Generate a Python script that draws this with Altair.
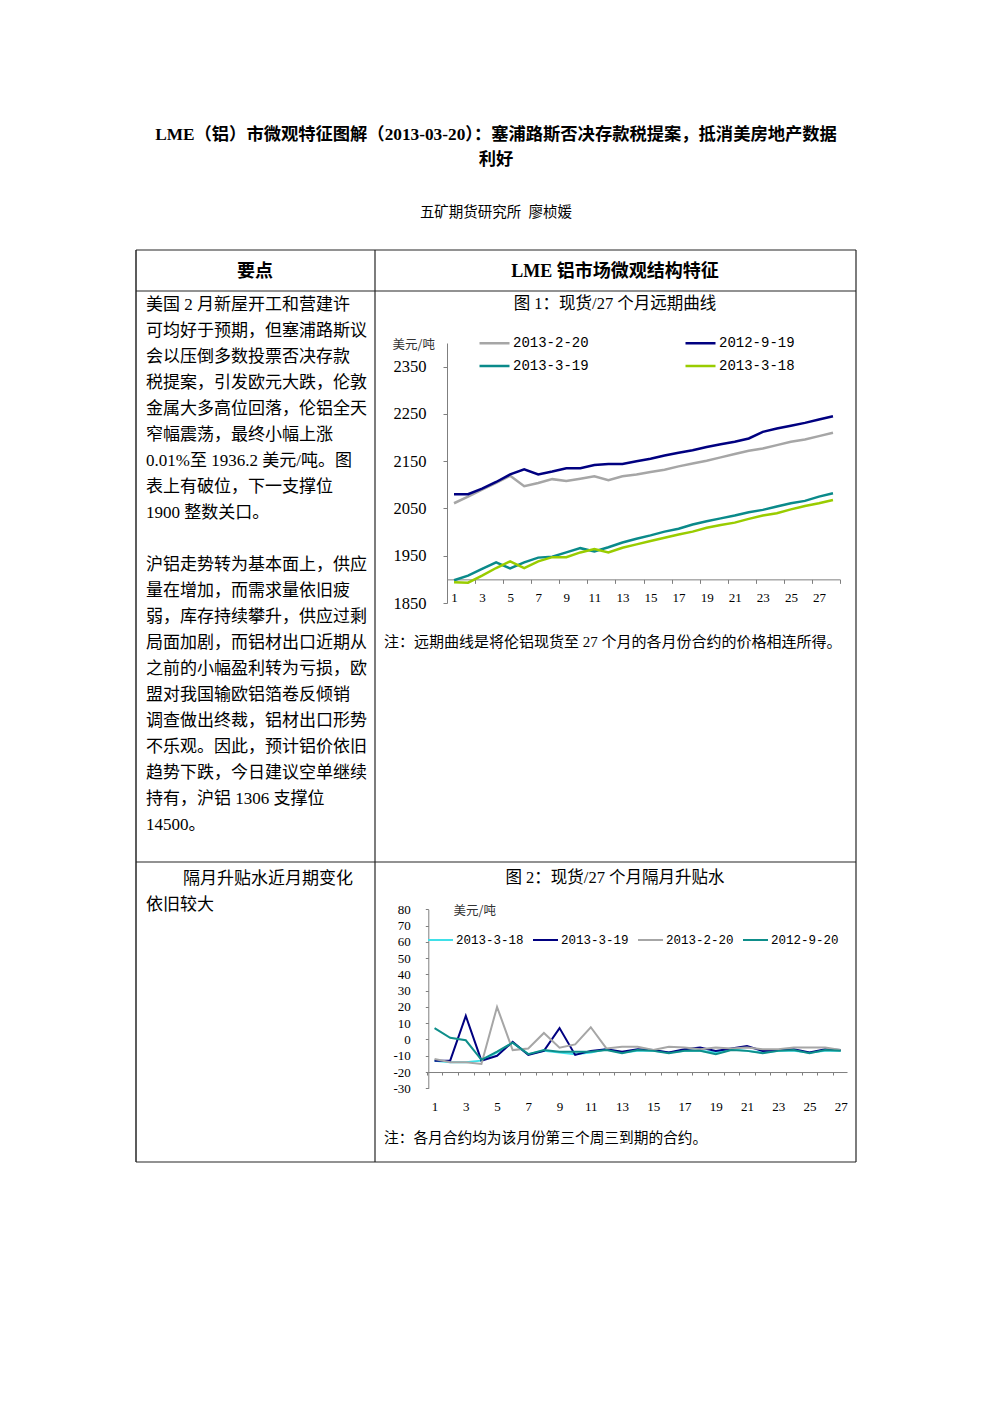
import altair as alt
import pandas as pd

W, H = 992, 1403
CJK = "Noto Sans CJK SC"
SERIF = "Liberation Serif, Noto Sans CJK SC"
MONO = "Liberation Mono"

# ---------------- text content ----------------
title_line1 = "LME（铝）市微观特征图解（2013-03-20）：塞浦路斯否决存款税提案，抵消美房地产数据"
title_line2 = "利好"
author = "五矿期货研究所\u00a0 廖桢媛"
head_left = "要点"
head_right = "LME 铝市场微观结构特征"
para1a = [
    "美国 2 月新屋开工和营建许",
    "可均好于预期，但塞浦路斯议",
    "会以压倒多数投票否决存款",
    "税提案，引发欧元大跌，伦敦",
    "金属大多高位回落，伦铝全天",
    "窄幅震荡，最终小幅上涨",
    "0.01%至 1936.2 美元/吨。图",
    "表上有破位，下一支撑位",
    "1900 整数关口。",
]
para1b = [
    "沪铝走势转为基本面上，供应",
    "量在增加，而需求量依旧疲",
    "弱，库存持续攀升，供应过剩",
    "局面加剧，而铝材出口近期从",
    "之前的小幅盈利转为亏损，欧",
    "盟对我国输欧铝箔卷反倾销",
    "调查做出终裁，铝材出口形势",
    "不乐观。因此，预计铝价依旧",
    "趋势下跌，今日建议空单继续",
    "持有，沪铝 1306 支撑位",
    "14500。",
]
para2_first = "隔月升贴水近月期变化"
para2_second = "依旧较大"
fig1_title = "图 1：现货/27 个月远期曲线"
fig1_note = "注：远期曲线是将伦铝现货至 27 个月的各月份合约的价格相连所得。"
fig2_title = "图 2：现货/27 个月隔月升贴水"
fig2_note = "注：各月合约均为该月份第三个周三到期的合约。"
unit = "美元/吨"

# ---------------- chart 1 data ----------------
months1 = list(range(1, 29))
# legend is filled column by column: left column first, then right column
series1 = ["2013-2-20", "2013-3-19", "2012-9-19", "2013-3-18"]
colors1 = ["#A6A6A6", "#0A8A8A", "#000080", "#99CC00"]
c1_0220 = [2061, 2075, 2090, 2104, 2119, 2097, 2104, 2112, 2108, 2113, 2118, 2110, 2118, 2122,
           2127, 2132, 2139, 2145, 2151, 2158, 2165, 2172, 2177, 2184, 2191, 2196, 2203, 2210]
c1_0919 = [2080, 2080, 2092, 2106, 2122, 2133, 2122, 2128, 2135, 2135, 2142, 2144, 2144, 2150,
           2155, 2162, 2168, 2173, 2180, 2186, 2191, 2198, 2212, 2219, 2225, 2231, 2238, 2245]
c1_0319 = [1898, 1908, 1922, 1936, 1923, 1936, 1946, 1948, 1957, 1966, 1959, 1968, 1978, 1986,
           1993, 2001, 2007, 2016, 2023, 2029, 2035, 2042, 2047, 2054, 2061, 2066, 2075, 2082]
c1_0318 = [1894, 1893, 1908, 1924, 1938, 1924, 1938, 1947, 1947, 1957, 1964, 1957, 1967, 1974,
           1981, 1988, 1995, 2001, 2009, 2015, 2020, 2028, 2035, 2040, 2048, 2055, 2061, 2068]
y1_ticks = [1850, 1950, 2050, 2150, 2250, 2350]
x1_ticks = [2, 4, 6, 8, 10, 12, 14, 16, 18, 20, 22, 24, 26, 28]

# ---------------- chart 2 data ----------------
months2 = list(range(1, 28))
series2 = ["2013-3-18", "2013-3-19", "2013-2-20", "2012-9-20"]
colors2 = ["#3FE0E8", "#000080", "#A6A6A6", "#0E8E8A"]
c2_0318 = [-13, -14, -14, -13, -8, -2, -9, -7, -8, -9, -8, -6, -8, -7, -7, -8, -7, -7, -8, -6,
           -7, -8, -7, -7, -8, -7, -7]
c2_0319 = [-13, -13, 14.5, -13, -10, -1.5, -9.5, -7, 7, -9.5, -7, -6, -7.5, -6, -6.5, -8, -6,
           -5, -7, -5.5, -4, -7, -6.5, -6, -8, -6, -6.5]
c2_0220 = [-12, -14, -14, -15, 20, -6.5, -5.5, 4, -5, -3, 7.5, -5.5, -4.5, -4.5, -6.5, -4.5, -5,
           -6, -5, -5.5, -5, -6, -6, -5, -5, -5, -6.5]
c2_0920 = [7, 1, -0.5, -12.5, -7.5, -2, -9, -6.5, -7.5, -7.5, -7.5, -6.5, -8.5, -6.5, -7, -8.5,
           -7, -7, -9, -6.5, -7, -8.5, -7, -6.5, -8.5, -6.5, -7]
y2_ticks = list(range(-30, 90, 10))
x2_ticks = list(range(1, 28))

df1 = pd.DataFrame({
    "月份": months1 * 4,
    "价格": c1_0220 + c1_0919 + c1_0319 + c1_0318,
    "日期": sum([[s] * len(months1) for s in ["2013-2-20", "2012-9-19", "2013-3-19", "2013-3-18"]], []),
})
df2 = pd.DataFrame({
    "月份": months2 * 4,
    "升贴水": c2_0318 + c2_0319 + c2_0220 + c2_0920,
    "日期": sum([[s] * len(months2) for s in series2], []),
})

# ---------------- layout helpers ----------------
BORDER = "#262626"


def hline(y, x1, x2, w=1.2):
    return alt.Chart().mark_rule(color=BORDER, strokeWidth=w).encode(
        x=alt.value(x1), x2=alt.value(x2), y=alt.value(y))


def vline(x, y1, y2, w=1.2):
    return alt.Chart().mark_rule(color=BORDER, strokeWidth=w).encode(
        x=alt.value(x), y=alt.value(y1), y2=alt.value(y2))


def text(t, x, y, size, weight="normal", align="left", font=SERIF, lh=None):
    kw = dict(text=t, align=align, baseline="alphabetic", fontSize=size,
              fontWeight=weight, font=font, color="black")
    if lh is not None:
        kw["lineHeight"] = lh
    return alt.Chart().mark_text(**kw).encode(x=alt.value(x), y=alt.value(y))


TL, TR, TM = 136, 856, 375
TT, THB, TRD, TB = 250, 291, 862, 1162
LH = 26

decor = [
    hline(TT, TL, TR), hline(THB, TL, TR), hline(TRD, TL, TR), hline(TB, TL, TR),
    vline(TL, TT, TB, 1.5), vline(TR, TT, TB), vline(TM, TT, TB),
    text(title_line1, 496, 139.6, 17.3, "bold", "center"),
    text(title_line2, 496, 164.6, 17.3, "bold", "center"),
    text(author, 496, 216.5, 14.5, "normal", "center"),
    text(head_left, 255, 276.8, 18, "bold", "center"),
    text(head_right, 615, 276.8, 18, "bold", "center"),
    text(para1a, 146, 309.5, 17, lh=LH),
    text(para1b, 146, 309.5 + LH * (len(para1a) + 1), 17, lh=LH),
    text(para2_first, 183, 883.5, 17),
    text(para2_second, 146, 909.5, 17),
    text(fig1_title, 615, 309.3, 16.5, "normal", "center"),
    text(fig1_note, 384, 646.7, 15),
    text(fig2_title, 615, 883.3, 16.5, "normal", "center"),
    text(fig2_note, 384, 1142.6, 14.7),
]

AX = "#7F7F7F"

# ---------------- chart 1 ----------------
X1_RANGE = [447, 840]
X1_DOM = [0.5, 28.5]
cat1 = (X1_RANGE[1] - X1_RANGE[0]) / (X1_DOM[1] - X1_DOM[0])
Y1_RANGE = [603, 343]
Y1_DOM = [1850, 2400]
y1_axis_px = Y1_RANGE[0] - (1900 - Y1_DOM[0]) * (Y1_RANGE[0] - Y1_RANGE[1]) / (Y1_DOM[1] - Y1_DOM[0])

chart1 = alt.Chart(df1).mark_line(strokeWidth=2.5).encode(
    x=alt.X("月份:Q",
            scale=alt.Scale(domain=X1_DOM, range=X1_RANGE, nice=False, zero=False),
            axis=alt.Axis(orient="bottom", offset=-(H - y1_axis_px), values=x1_ticks,
                          tickOffset=cat1 / 2, labelOffset=-cat1 * 1.5,
                          labelExpr="'' + (datum.value - 1)",
                          tickSize=4, labelPadding=8, labelFont=SERIF, labelFontSize=13,
                          labelColor="black", labelFlush=False, labelOverlap=False,
                          domainColor=AX, tickColor=AX, grid=False, title=None)),
    y=alt.Y("价格:Q",
            scale=alt.Scale(domain=Y1_DOM, range=Y1_RANGE, nice=False, zero=False),
            axis=alt.Axis(orient="left", offset=-X1_RANGE[0], values=y1_ticks,
                          labelExpr="'' + datum.value",
                          tickSize=4, labelPadding=17, labelFont=SERIF, labelFontSize=16.5,
                          labelColor="black", labelFlush=False, labelOverlap=False,
                          domainColor=AX, tickColor=AX, grid=False,
                          title=unit, titleAngle=0, titleAlign="left", titleBaseline="middle",
                          titleX=392 - X1_RANGE[0], titleY=344, titleFont=CJK,
                          titleFontSize=12.5, titleFontWeight="normal", titleColor="#333333")),
    color=alt.Color("日期:N",
                    scale=alt.Scale(domain=series1, range=colors1),
                    legend=alt.Legend(orient="none", legendX=478, legendY=336.3, columns=2,
                                      columnPadding=95, rowPadding=8.7, symbolType="stroke",
                                      symbolSize=900, symbolStrokeWidth=2.5, labelFont=MONO,
                                      labelFontSize=14, labelColor="black", labelOffset=2,
                                      clipHeight=14, padding=0, title=None)),
)

# ---------------- chart 2 ----------------
X2_RANGE = [428.3, 847]
X2_DOM = [0.6, 27.4]
cat2 = (X2_RANGE[1] - X2_RANGE[0]) / (X2_DOM[1] - X2_DOM[0])
Y2_RANGE = [1088.3, 909.3]
Y2_DOM = [-30, 80]
y2_axis_px = Y2_RANGE[0] - (-20 - Y2_DOM[0]) * (Y2_RANGE[0] - Y2_RANGE[1]) / (Y2_DOM[1] - Y2_DOM[0])

chart2 = alt.Chart(df2).mark_line(strokeWidth=2).encode(
    x=alt.X("月份:Q",
            scale=alt.Scale(domain=X2_DOM, range=X2_RANGE, nice=False, zero=False),
            axis=alt.Axis(orient="bottom", offset=-(H - y2_axis_px), values=x2_ticks,
                          tickOffset=-cat2 / 2, labelOffset=cat2 / 2,
                          labelExpr="datum.value % 2 == 1 ? '' + datum.value : ''",
                          tickSize=3, labelPadding=25, labelFont=SERIF, labelFontSize=13,
                          labelColor="black", labelFlush=False, labelOverlap=False,
                          domainColor=AX, tickColor=AX, grid=False, title=None)),
    y=alt.Y("升贴水:Q",
            scale=alt.Scale(domain=Y2_DOM, range=Y2_RANGE, nice=False, zero=False),
            axis=alt.Axis(orient="left", offset=-X2_RANGE[0], values=y2_ticks,
                          labelExpr="'' + datum.value",
                          tickSize=3, labelPadding=15, labelFont=SERIF, labelFontSize=13,
                          labelColor="black", labelFlush=False, labelOverlap=False,
                          domainColor=AX, tickColor=AX, grid=False,
                          title=unit, titleAngle=0, titleAlign="left", titleBaseline="middle",
                          titleX=453 - X2_RANGE[0], titleY=910, titleFont=CJK,
                          titleFontSize=12.5, titleFontWeight="normal", titleColor="#333333")),
    color=alt.Color("日期:N",
                    scale=alt.Scale(domain=series2, range=colors2),
                    legend=alt.Legend(orient="none", legendX=427, legendY=933.5, columns=4,
                                      direction="horizontal",
                                      columnPadding=8, symbolType="stroke",
                                      symbolSize=625, symbolStrokeWidth=2, labelFont=MONO,
                                      labelFontSize=12.5, labelColor="black", labelOffset=2,
                                      clipHeight=13, padding=0, title=None)),
)

chart = alt.layer(*decor, chart1, chart2).resolve_scale(
    x="independent", y="independent", color="independent"
).properties(
    width=W, height=H, autosize=alt.AutoSizeParams(type="none"), padding=0,
    background="white",
).configure_view(stroke=None)

chart.save("out.html", embed_options={"renderer": "svg", "actions": False})
